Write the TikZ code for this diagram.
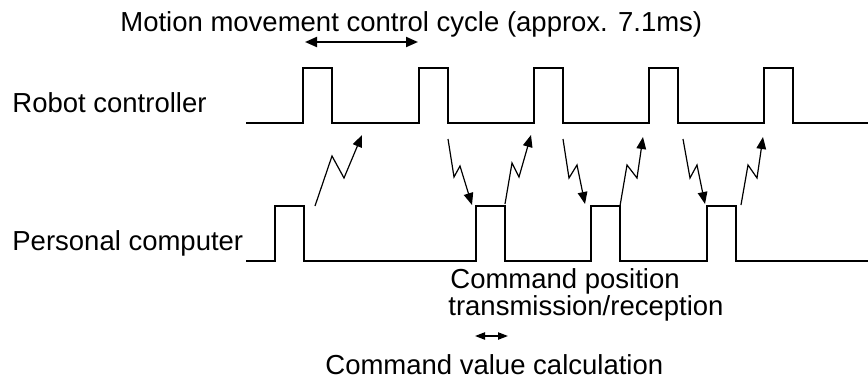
\documentclass[tikz,border=0pt]{standalone}
\usepackage{fontspec}
\setmainfont{Liberation Sans}
\usetikzlibrary{arrows.meta}

\begin{document}
\begin{tikzpicture}[x=0.5pt,y=-0.5pt,>={Triangle[length=6pt,width=4.8pt]},
  signal/.style={line width=0.85pt},
  bolt/.style={line width=0.6pt,->},
  lbl/.style={anchor=base west,inner sep=0pt,font=\fontsize{13.75}{16}\selectfont}]
  \useasboundingbox (0,0) rectangle (868,381);
  % signals
  \draw[signal] (246,123) \foreach \x in {303,419,534,649,764} {
      -- (\x,123) -- (\x,68) -- (\x+29,68) -- (\x+29,123)} -- (868,123);
  \draw[signal] (246,261) \foreach \x in {275,476,591,707} {
      -- (\x,261) -- (\x,206) -- (\x+29,206) -- (\x+29,261)} -- (868,261);
  \node[lbl] (robot) at (12,112) {Robot controller};
  \node[lbl] (pc) at (12,250) {Personal computer};
  % cycle
  \node[lbl] (cycle) at (120,31) {Motion movement control cycle (approx. 7.1ms)};
  \coordinate (c1) at (305,42);
  \coordinate (c2) at (418,42);
  \draw[<->,line width=1pt,>={Triangle[length=6pt,width=5pt]}] (c1) -- (c2);
  % PC -> robot
  \coordinate (u1) at (315,206); \coordinate (t1) at (362,135);
  \coordinate (u2) at (505,204); \coordinate (t2) at (531,135);
  \coordinate (u3) at (620,206); \coordinate (t3) at (643,137);
  \coordinate (u4) at (741,205); \coordinate (t4) at (763,137);
  \draw[bolt] (u1) -- (332,156) -- (344,178) -- (t1);
  \draw[bolt] (u2) -- (512,163) -- (519,177) -- (t2);
  \draw[bolt] (u3) -- (627,165) -- (637,178) -- (t3);
  \draw[bolt] (u4) -- (748,165) -- (757,178) -- (t4);
  % robot -> PC
  \coordinate (d1) at (448,139); \coordinate (e1) at (472,205);
  \coordinate (d2) at (563,139); \coordinate (e2) at (585,204);
  \coordinate (d3) at (683,139); \coordinate (e3) at (705,204);
  \draw[bolt] (d1) -- (454,177) -- (460,166) -- (e1);
  \draw[bolt] (d2) -- (569,178) -- (577,165) -- (e2);
  \draw[bolt] (d3) -- (690,178) -- (697,165) -- (e3);
  % labels below
  \node[lbl] (cmdpos) at (450,288) {Command position};
  \node[lbl] (trans) at (448,315) {transmission/reception};
  \coordinate (v1) at (475,336);
  \coordinate (v2) at (508,336);
  \draw[<->,line width=0.8pt,>={Triangle[length=5pt,width=3.6pt]}] (v1) -- (v2);
  \node[lbl] (calc) at (325,374) {Command value calculation};
\end{tikzpicture}
\end{document}
